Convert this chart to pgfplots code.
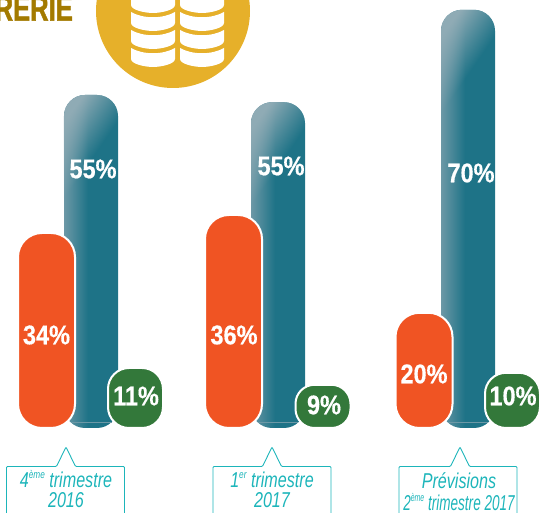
\documentclass[border=0pt]{standalone}
\usepackage{pgfplots}
\pgfplotsset{compat=1.18}
\usepackage{fontspec}
\usetikzlibrary{fadings}
\setmainfont{Liberation Sans}
\newfontfamily\valfont[FakeStretch=0.87,FakeBold=0.4]{Liberation Sans Bold}
\newfontfamily\headfont[FakeStretch=0.71,FakeBold=1.2]{Liberation Sans Bold}
\newfontfamily\capfont[FakeStretch=0.75]{Liberation Sans Italic}
\newfontfamily\capfontb[FakeStretch=0.63]{Liberation Sans Italic}
\definecolor{orangeb}{HTML}{F05423}
\definecolor{tealb}{HTML}{1E7387}
\definecolor{tealc}{HTML}{6C98A6}
\definecolor{glossc}{HTML}{8FABB5}
\definecolor{greenb}{HTML}{33783A}
\definecolor{goldc}{HTML}{E6B02A}
\definecolor{goldt}{HTML}{A37A00}
\definecolor{cyanl}{HTML}{1DB5BA}
\pgfdeclarehorizontalshading{tealbar}{100bp}{color(0bp)=(tealc); color(25bp)=(tealc); color(47bp)=(tealb); color(100bp)=(tealb)}
\tikzfading[name=gloss, top color=transparent!0, bottom color=transparent!100, middle color=transparent!100]
\newcommand{\coin}[2]{\fill[white,rounded corners=0pt] (#1,#2) .. controls (#1+12,#2+7) and (#1+32,#2+7) .. (#1+44,#2) -- (#1+44,#2+11) .. controls (#1+44,#2+16) and (#1+30,#2+19) .. (#1+22,#2+19) .. controls (#1+14,#2+19) and (#1,#2+16) .. (#1,#2+11) -- cycle;}
\newcommand{\callout}[2]{\draw[cyanl,line width=0.9pt,rounded corners=1pt] (#1,525) -- (#1,466.5) -- (#2-9.5,466.5) -- (#2,447) -- (#2+9.5,466.5) -- (#1+118,466.5) -- (#1+118,525);}
\newcommand{\val}[3]{\node[text=white,font=\valfont\fontsize{27}{27}\selectfont,inner sep=0pt] at (#1,#2) {#3};}
\newcommand{\captxt}[3]{\node[anchor=base,text=cyanl,inner sep=0pt] at (#1,#2) {\fontsize{21.5}{21.5}\selectfont #3};}
\newcommand{\sups}[1]{\raisebox{0.42em}{\fontsize{11}{11}\selectfont #1}}
\begin{document}
\begin{tikzpicture}
\useasboundingbox (0,0) rectangle (541pt,513pt);
\begin{axis}[
  at={(0,0)},anchor=south west,
  scale only axis,width=541pt,height=513pt,
  hide axis,
  xmin=0,xmax=541,ymin=-14.1667,ymax=71.3333,
  clip=false,
  ybar,bar shift=0pt,
]
% teal series (bar heights as measured, 6 px per unit)
\addplot[bar width=54pt,draw=none,shade,shading=tealbar,rounded corners=21pt] coordinates {(91,55.5)};
\addplot[bar width=54pt,draw=none,shade,shading=tealbar,rounded corners=21pt] coordinates {(278,54.3)};
\addplot[bar width=54pt,draw=none,shade,shading=tealbar,rounded corners=21pt] coordinates {(468,69.7)};
% gloss
\addplot[sharp plot,draw=none,fill=glossc,path fading=gloss,fading angle=31,rounded corners=21pt] coordinates {(64,33.83)(64,55.5)(118,55.5)(118,33.83)} --cycle;
\addplot[sharp plot,draw=none,fill=glossc,path fading=gloss,fading angle=31,rounded corners=21pt] coordinates {(251,32.63)(251,54.3)(305,54.3)(305,32.63)} --cycle;
\addplot[sharp plot,draw=none,fill=glossc,path fading=gloss,fading angle=31,rounded corners=21pt] coordinates {(441,48.03)(441,69.7)(495,69.7)(495,48.03)} --cycle;
% thin light lines near the base
\addplot[sharp plot,color=tealc,line width=0.5pt] coordinates {(72,0.9)(112,0.9)};
\addplot[sharp plot,color=tealc,line width=0.5pt] coordinates {(258,0.9)(298,0.9)};
\addplot[sharp plot,color=tealc,line width=0.5pt] coordinates {(448,0.9)(488,0.9)};
% orange series
\addplot[bar width=57pt,draw=white,line width=2pt,fill=orangeb,rounded corners=24pt] coordinates {(46.5,32.5)(233.5,35.5)(424,19.2)};
% green series
\addplot[bar width=55pt,draw=white,line width=2pt,fill=greenb,rounded corners=21pt] coordinates {(135.5,10)};
\addplot[bar width=55pt,draw=white,line width=2pt,fill=greenb,rounded corners=19pt] coordinates {(323,7.2)};
\addplot[bar width=55pt,draw=white,line width=2pt,fill=greenb,rounded corners=21pt] coordinates {(512.5,9.2)};
\end{axis}
\begin{scope}[x=1pt,y=-1pt,yshift=513pt]
\fill[goldc] (173,11) circle[radius=77];
\foreach \t in {-6,12,30,48}{\coin{131}{\t}\coin{180}{\t}}
\node[anchor=base east,text=goldt,font=\headfont\fontsize{36}{36}\selectfont,inner sep=0pt] at (73,20.7) {RERIE};
\val{93}{169}{55\%}
\val{281}{166}{55\%}
\val{471}{173}{70\%}
\val{46.5}{335}{34\%}
\val{234}{335}{36\%}
\val{424}{374}{20\%}
\val{136}{396}{11\%}
\val{324}{405}{9\%}
\val{513}{396}{10\%}
\callout{6.5}{66}
\callout{213}{272}
\callout{399}{460}
\captxt{66}{488}{\capfont 4\sups{ème} trimestre}
\captxt{66}{508}{\capfont 2016}
\captxt{272}{488}{\capfont 1\sups{er} trimestre}
\captxt{272}{508}{\capfont 2017}
\captxt{459}{489}{\capfont Prévisions}
\captxt{459}{511}{\capfontb 2\sups{ème} trimestre 2017}
\end{scope}
\end{tikzpicture}
\end{document}
